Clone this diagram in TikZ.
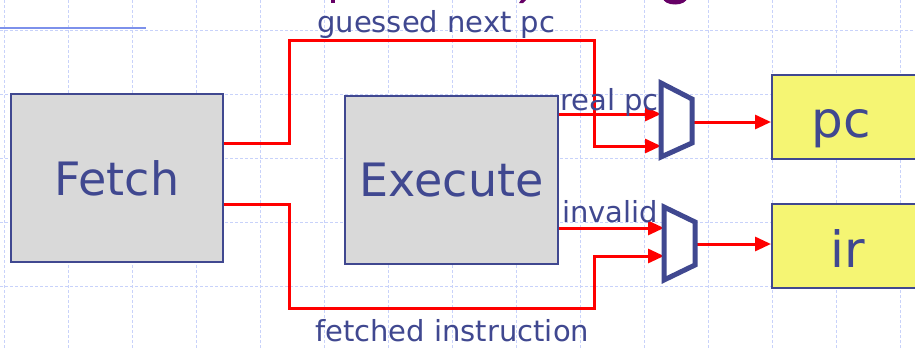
\documentclass[tikz,border=0pt]{standalone}
\usepackage{fontspec}
\setmainfont{DejaVu Sans}
\usetikzlibrary{arrows.meta}
\definecolor{ink}{RGB}{64,72,144}
\definecolor{gridc}{RGB}{200,210,250}
\definecolor{boxgray}{RGB}{217,217,217}
\definecolor{regyellow}{RGB}{245,245,115}
\definecolor{titlepurple}{RGB}{102,0,102}
\definecolor{rulecol}{RGB}{125,145,235}

\begin{document}
\begin{tikzpicture}[x=1pt,y=-1pt,
  stage/.style={draw=ink,line width=2pt,fill=boxgray,inner sep=0,
    minimum width=212pt,minimum height=168pt,text=ink,font=\fontsize{46}{50}\selectfont},
  reg/.style={draw=ink,line width=2pt,fill=regyellow,inner sep=0,
    minimum height=84pt,minimum width=160pt,anchor=west},
  regtxt/.style={text=ink,font=\fontsize{50}{54}\selectfont,anchor=base,inner sep=0},
  lbl/.style={text=ink,font=\fontsize{29}{33}\selectfont,anchor=base west,inner sep=0},
  wire/.style={red,line width=3pt,-{Triangle[length=16pt,width=14pt]}},
  mux/.style={draw=ink,line width=5pt,fill=white,line join=miter},
  gridline/.style={gridc,line width=0.8pt,dash pattern=on 3pt off 2pt}]

\useasboundingbox (0,0) rectangle (915,348);
\fill[white] (0,0) rectangle (915,348);

% background grid
\foreach \gx in {4,68,...,900} \draw[gridline] (\gx,0) -- (\gx,348);
\foreach \gy in {30,94,...,286} \draw[gridline] (0,\gy) -- (915,\gy);

% heading rule and the lower tips of the heading letters
\draw[rulecol,line width=2.5pt] (0,28) -- (146,28);
\fill[titlepurple] (331,0) rectangle (335,3);
\fill[titlepurple] (521,0) -- (526,0) -- (523,3) -- (519,3) -- cycle;
\begin{scope}
  \clip (600,0) rectangle (760,20);
  \fill[titlepurple] (675,-2) ellipse [x radius=12pt, y radius=6.5pt];
\end{scope}

% pipeline stages
\node[stage] (fetch) at (117,178) {Fetch};
\node[stage,minimum width=213pt] (exec) at (451.5,180) {Execute};

% registers
\node[reg] (pc) at (771,117) {};
\node[reg] (ir) at (771,246) {};
\node[regtxt] (pctxt) at (841,137) {pc};
\node[regtxt] (irtxt) at (848,267) {ir};

% multiplexer inputs and outputs
\coordinate (mA1) at (661,114);
\coordinate (mA2) at (661,146);
\coordinate (mAout) at (692,122);
\coordinate (mB1) at (664,228);
\coordinate (mB2) at (664,256);
\coordinate (mBout) at (695,244);
\coordinate (guessTop) at (594,40);
\coordinate (fetchBot) at (594,308);

% wires
\draw[wire] ([yshift=35pt]fetch.east) -- ++(65,0) |- (guessTop) |- (mA2);
\draw[wire] ([yshift=-26pt]fetch.east) -- ++(65,0) |- (fetchBot) |- (mB2);
\draw[wire] ([yshift=66pt]exec.east) -- (mA1);
\draw[wire] ([yshift=-48pt]exec.east) -- (mB1);
\draw[wire] (mAout) -- (pc.west |- mAout);
\draw[wire] (mBout) -- (ir.west |- mBout);

% multiplexers
\draw[mux] (661,83) -- (692,99) -- (692,143) -- (661,157) -- cycle;
\draw[mux] (664,207) -- (695,222) -- (695,265) -- (664,280) -- cycle;

% wire labels
\node[lbl] (lguess) at (317,32) {guessed next pc};
\node[lbl] (lreal) at (560,110) {real pc};
\node[lbl] (linv) at (562,222) {invalid};
\node[lbl] (lfetched) at (315,341) {fetched instruction};
\end{tikzpicture}
\end{document}
